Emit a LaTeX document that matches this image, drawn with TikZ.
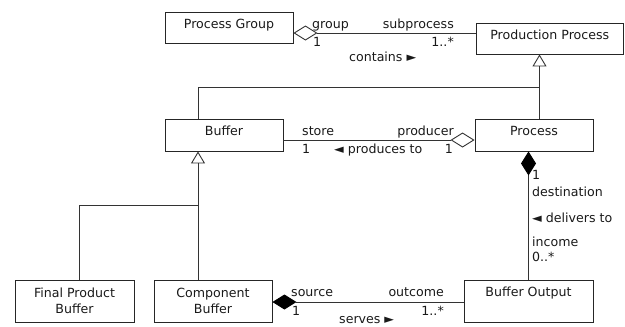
\documentclass[tikz,border=0pt]{standalone}
\usepackage{fontspec}
\setmainfont{DejaVu Sans}
\usetikzlibrary{arrows.meta}
\tikzset{
  aggtip/.tip={Diamond[open, length=24pt, width=15pt, line width=0.9pt]},
  comptip/.tip={Diamond[length=24pt, width=15pt, color=black]},
  gentip/.tip={Triangle[open, length=12pt, width=14pt, line width=0.9pt]}
}
\begin{document}
\begin{tikzpicture}[x=1pt,y=-1pt,
  font=\fontsize{12.6}{16}\selectfont,
  umlbox/.style={draw=black!85, line width=0.9pt, inner sep=0pt, minimum height=32},
  boxtext/.style={anchor=base, inner sep=0pt, yshift=-17, text=black!90},
  twoline/.style={inner sep=0pt, align=center, anchor=center, text=black!90},
  lbl/.style={inner sep=0pt, text=black!90},
  assoc/.style={draw=black!80, line width=0.9pt}
]
\useasboundingbox (0,0) rectangle (625,327);

% boxes
\node[umlbox, minimum width=128, minimum height=31] (pg) at (229,27.5) {};
\node[boxtext] (pgt) at (pg.north) {Process Group};
\node[umlbox, minimum width=147.5, minimum height=31] (pp) at (549.75,38.5) {};
\node[boxtext] (ppt) at (pp.north) {Production Process};
\node[umlbox, minimum width=118] (buf) at (224,135) {};
\node[boxtext] (buft) at (buf.north) {Buffer};
\node[umlbox, minimum width=118] (proc) at (534,135) {};
\node[boxtext] (proct) at (proc.north) {Process};
\node[umlbox, minimum width=119, minimum height=42] (fpb) at (74.5,301) {};
\node[twoline] (fpbt) at (74.5,300.5) {Final Product\\Buffer};
\node[umlbox, minimum width=118, minimum height=42] (cb) at (213,301) {};
\node[twoline] (cbt) at (213,300.5) {Component\\Buffer};
\node[umlbox, minimum width=129, minimum height=42] (bo) at (528.5,301) {};
\node[boxtext] (bot) at (bo.north) {Buffer Output};

% Process Group -- Production Process
\draw[assoc, {aggtip}-] (pg.east |- 0,33) -- (pp.west |- 0,33);
\node[lbl, anchor=base west] (l1) at (312,28.5) {group};
\node[lbl, anchor=base east] (l2) at (454,28.5) {subprocess};
\node[lbl, anchor=base west] (l3) at (313,46) {1};
\node[lbl, anchor=base east] (l4) at (454,46) {1..*};
\node[lbl, anchor=base west] (l5) at (349,61) {contains ►};

% generalization to Production Process
\coordinate (gj) at (539.5,87);
\draw[assoc, -{gentip}] (proc.north -| gj) -- (pp.south -| gj);
\draw[assoc] (buf.north -| 198,0) |- (gj);

% Buffer -- Process
\draw[assoc, -{aggtip}] (buf.east |- 0,140) -- (proc.west |- 0,140);
\node[lbl, anchor=base west] (l6) at (302,135) {store};
\node[lbl, anchor=base east] (l7) at (454,135) {producer};
\node[lbl, anchor=base west] (l8) at (302,153) {1};
\node[lbl, anchor=base west] (l9) at (334,153) {◄ produces to};
\node[lbl, anchor=base east] (l10) at (453,153) {1};

% generalization to Buffer
\coordinate (bj) at (198,205);
\draw[assoc, -{gentip}] (cb.north -| bj) -- (buf.south -| bj);
\draw[assoc] (fpb.north -| 79,0) |- (bj);

% Process -- Buffer Output
\draw[assoc, {comptip}-] (proc.south -| bo.north) -- (bo.north);
\node[lbl, anchor=base west] (l11) at (532,179) {1};
\node[lbl, anchor=base west] (l12) at (532,196) {destination};
\node[lbl, anchor=base west] (l13) at (532,222) {◄ delivers to};
\node[lbl, anchor=base west] (l14) at (532,246) {income};
\node[lbl, anchor=base west] (l15) at (532,261) {0..*};

% Component Buffer -- Buffer Output
\draw[assoc, {comptip}-] (cb.east |- 0,302) -- (bo.west |- 0,302);
\node[lbl, anchor=base west] (l16) at (291,296) {source};
\node[lbl, anchor=base east] (l17) at (444,296) {outcome};
\node[lbl, anchor=base west] (l18) at (292,315) {1};
\node[lbl, anchor=base east] (l19) at (444,315) {1..*};
\node[lbl, anchor=base west] (l20) at (339,323.5) {serves ►};
\end{tikzpicture}
\end{document}
